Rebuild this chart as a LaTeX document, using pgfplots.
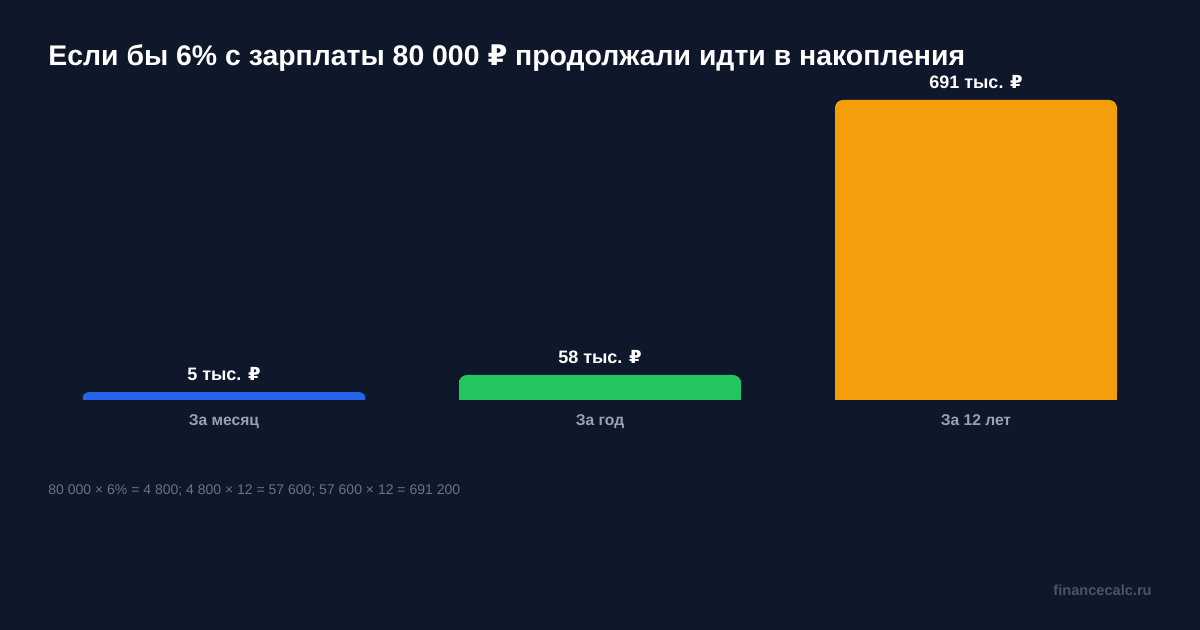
\documentclass[border=0pt]{standalone}
\usepackage{fontspec}
\setmainfont{Liberation Sans}
\newfontfamily\rubfont{DejaVu Sans}
\newcommand{\rub}{{\rubfont ₽}}
\usepackage{pgfplots}
\pgfplotsset{compat=1.18}

\definecolor{bg}{HTML}{0F172A}
\definecolor{cblue}{HTML}{2563EB}
\definecolor{cgreen}{HTML}{22C55E}
\definecolor{corange}{HTML}{F59E0B}
\definecolor{catgrey}{HTML}{94A3B8}
\definecolor{notegrey}{HTML}{64748B}
\definecolor{markgrey}{HTML}{475569}

\begin{document}
\begin{tikzpicture}
  % background, 1200x630 px at 0.5pt per px
  \fill[bg] (0pt,0pt) rectangle (600pt,315pt);

  \node[anchor=west, inner sep=0pt, text=white, font=\fontsize{14.2}{16}\selectfont\bfseries]
    at (24pt,286pt) {Если бы 6\% с зарплаты 80 000 \rub{} продолжали идти в накопления};

  \begin{axis}[
    at={(18pt,115pt)}, anchor=south west,
    scale only axis,
    width=564pt, height=150pt,
    xmin=-0.5, xmax=2.5,
    ymin=0, ymax=691.2,
    clip=false,
    axis line style={draw=none},
    major tick length=0pt,
    ytick=\empty,
    xtick={0,1,2},
    xticklabels={За месяц, За год, За 12 лет},
    xticklabel style={text=catgrey, font=\fontsize{7.8}{9}\selectfont\bfseries, yshift=-4pt},
    ybar, bar width=141pt, bar shift=0pt,
  ]
    % bar heights as drawn (the month bar is shown at a minimum height)
    \addplot[fill=cblue, draw=none, rounded corners=3pt] coordinates {(0,18.4)};
    \addplot[fill=cblue, draw=none] coordinates {(0,8)};
    \addplot[fill=cgreen, draw=none, rounded corners=4pt] coordinates {(1,57.6)};
    \addplot[fill=cgreen, draw=none] coordinates {(1,45)};
    \addplot[fill=corange, draw=none, rounded corners=4pt] coordinates {(2,691.2)};
    \addplot[fill=corange, draw=none] coordinates {(2,670)};

    \node[text=white, font=\fontsize{9}{10}\selectfont\bfseries] at (axis cs:0,18.4) [yshift=9pt] {5 тыс. \rub};
    \node[text=white, font=\fontsize{9}{10}\selectfont\bfseries] at (axis cs:1,57.6) [yshift=9pt] {58 тыс. \rub};
    \node[text=white, font=\fontsize{9}{10}\selectfont\bfseries] at (axis cs:2,691.2) [yshift=9pt] {691 тыс. \rub};
  \end{axis}

  \node[anchor=west, inner sep=0pt, text=notegrey, font=\fontsize{7}{8}\selectfont]
    at (24pt,69.5pt) {80 000 × 6\% = 4 800; 4 800 × 12 = 57 600; 57 600 × 12 = 691 200};
  \node[anchor=east, inner sep=0pt, text=markgrey, font=\fontsize{7.3}{8}\selectfont\bfseries]
    at (576pt,20pt) {financecalc.ru};
\end{tikzpicture}
\end{document}
